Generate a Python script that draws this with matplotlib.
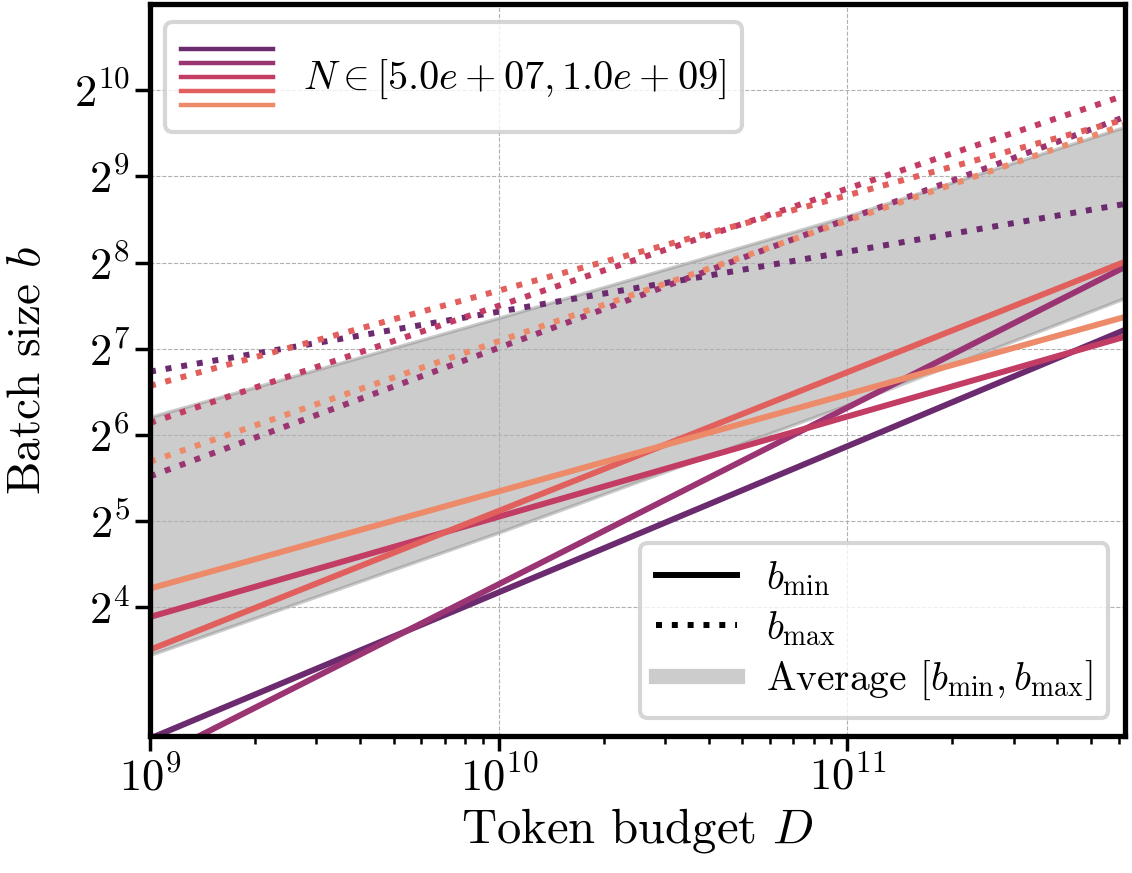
import matplotlib
matplotlib.use('Agg')
import matplotlib.pyplot as plt
from matplotlib.lines import Line2D
from matplotlib.legend_handler import HandlerBase
import numpy as np

plt.rcParams['font.family'] = 'serif'
plt.rcParams['font.serif'] = ['cmr10']
plt.rcParams['mathtext.fontset'] = 'cm'
plt.rcParams['axes.formatter.use_mathtext'] = True
plt.rcParams['axes.unicode_minus'] = False

# token budget range (ends of the x axis)
D_ends = [1e9, 6.25e11]
# log2 of batch size at the two ends, one pair per model size N
bmin_log2 = [[2.48, 7.22], [2.22, 7.95], [3.89, 7.14], [3.51, 8.01], [4.22, 7.37]]
bmax_log2 = [[6.735, 8.68], [5.52, 9.69], [6.14, 9.94], [6.57, 9.66], [5.69, 9.60]]
# average band, read at a few budgets
D_band = [1e9, 1e10, 1e11, 6.25e11]
band_lo_log2 = [3.45, 4.87, 6.35, 7.59]
band_hi_log2 = [6.21, 7.36, 8.54, 9.575]
colors = ['#6c2a6f', '#9a3473', '#c33c63', '#e15f5c', '#ec8a69']
legend_label = r'$N \in [5.0e+07, 1.0e+09]$'

fig = plt.figure(figsize=(11.32, 8.73), dpi=100)
ax = fig.add_axes([0.1325, 0.157, 0.8613, 0.8385])

lw = 4.3
for c, lo, hi in zip(colors, bmin_log2, bmax_log2):
    ax.plot(D_ends, 2 ** np.array(lo), color=c, lw=lw, solid_capstyle='butt')
    ax.plot(D_ends, 2 ** np.array(hi), color=c, lw=lw, ls=':')
ax.fill_between(D_band, 2 ** np.array(band_lo_log2), 2 ** np.array(band_hi_log2),
                color='gray', alpha=0.4, lw=2.5, zorder=1)

ax.set_xscale('log')
ax.set_yscale('log', base=2)
ax.set_xlim(D_ends)
ax.set_ylim(2 ** 2.51, 2 ** 11)
ax.set_yticks([2 ** k for k in range(4, 11)])
ax.yaxis.set_minor_locator(matplotlib.ticker.NullLocator())
ax.grid(True, which='major', ls='--', lw=0.8, color='#b0b0b0')
ax.tick_params(which='major', labelsize=32, length=11, width=2.5)
ax.tick_params(which='minor', length=6, width=1.8)
for s in ax.spines.values():
    s.set_linewidth(3.8)
ax.set_xlabel(r'Token budget $D$', fontsize=35, labelpad=5)
ax.set_ylabel(r'Batch size $b$', fontsize=34, labelpad=18)


class StackHandle:
    def __init__(self, cols):
        self.cols = cols


class StackHandler(HandlerBase):
    def create_artists(self, legend, orig_handle, xdescent, ydescent, width, height, fontsize, trans):
        arts = []
        n = len(orig_handle.cols)
        for i, c in enumerate(orig_handle.cols):
            y = -ydescent + height * (0.86 - 0.72 * i / (n - 1))
            arts.append(Line2D([-xdescent, -xdescent + width], [y, y], color=c, lw=3.2, transform=trans))
        return arts


leg1 = ax.legend([StackHandle(colors)], [legend_label], handler_map={StackHandle: StackHandler()},
                 loc='upper left', bbox_to_anchor=(0.015, 0.975), borderaxespad=0,
                 fontsize=29, handlelength=2.3, handleheight=2.57, borderpad=0.4,
                 handletextpad=0.74, fancybox=True, framealpha=0.8, edgecolor='0.8')
leg1.get_frame().set_linewidth(3)
ax.add_artist(leg1)

h = [Line2D([], [], color='black', lw=lw), Line2D([], [], color='black', lw=lw, ls=':'),
     Line2D([], [], color='gray', alpha=0.4, lw=11)]
leg2 = ax.legend(h, [r'$b_{\min}$', r'$b_{\max}$', r'Average $[b_{\min}, b_{\max}]$'],
                 loc='lower right', bbox_to_anchor=(0.983, 0.025), borderaxespad=0,
                 fontsize=28.4, handlelength=2.05, labelspacing=0.28, handletextpad=0.75,
                 fancybox=True, framealpha=0.8, edgecolor='0.8')
leg2.get_frame().set_linewidth(3)

fig.savefig('out.png', dpi=100)
